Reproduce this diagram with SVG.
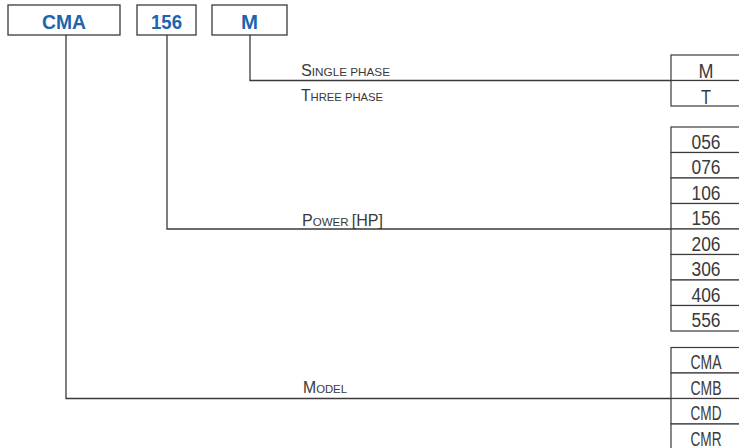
<svg xmlns="http://www.w3.org/2000/svg" width="739" height="448" viewBox="0 0 739 448">
<style>
.box{fill:#fff;stroke:#3a3a3a;stroke-width:1.3}
.cell{fill:#fff;stroke:#3a3a3a;stroke-width:1.2}
.ln{fill:none;stroke:#3a3a3a;stroke-width:1.3}
.hd{font-family:"Liberation Sans",Arial,sans-serif;font-weight:bold;font-size:21px;fill:#1c65ae;text-anchor:middle}
.val{font-family:"Liberation Sans",Arial,sans-serif;font-size:20px;fill:#3a3a3a;text-anchor:middle}
.lbl{font-family:"Liberation Sans",Arial,sans-serif;fill:#3a3a3a}
.cap{font-size:16px}
.sc{font-size:11.5px}
</style>
<rect width="739" height="448" fill="#fff"/>
<g id="head-cma"><rect class="box" x="8" y="5" width="112" height="30"/><text class="hd" x="64" y="28.5" textLength="44" lengthAdjust="spacingAndGlyphs">CMA</text></g>
<g id="head-156"><rect class="box" x="137" y="5" width="59" height="30"/><text class="hd" x="166.5" y="28.5" textLength="31" lengthAdjust="spacingAndGlyphs">156</text></g>
<g id="head-m"><rect class="box" x="212" y="5" width="75" height="30"/><text class="hd" x="249.5" y="28.5" textLength="17" lengthAdjust="spacingAndGlyphs">M</text></g>
<g id="connectors">
<polyline class="ln" points="250,35 250,80.5 671,80.5"/>
<polyline class="ln" points="167,35 167,229 671,229"/>
<polyline class="ln" points="66,35 66,398.5 671,398.5"/>
</g>
<g id="label-phase">
<text class="lbl" x="301" y="76" textLength="89" lengthAdjust="spacingAndGlyphs"><tspan class="cap">S</tspan><tspan class="sc">INGLE PHASE</tspan></text>
<text class="lbl" x="301" y="101" textLength="82" lengthAdjust="spacingAndGlyphs"><tspan class="cap">T</tspan><tspan class="sc">HREE PHASE</tspan></text>
</g>
<g id="label-power"><text class="lbl" x="302" y="226" textLength="81" lengthAdjust="spacingAndGlyphs"><tspan class="cap">P</tspan><tspan class="sc">OWER </tspan><tspan class="cap">[HP]</tspan></text></g>
<g id="label-model"><text class="lbl" x="303" y="393" textLength="44" lengthAdjust="spacingAndGlyphs"><tspan class="cap">M</tspan><tspan class="sc">ODEL</tspan></text></g>
<g id="table-phase">
<rect class="cell" x="671" y="55" width="80" height="25.5"/>
<rect class="cell" x="671" y="80.5" width="80" height="25.5"/>
<text class="val" x="706" y="78" textLength="15" lengthAdjust="spacingAndGlyphs">M</text>
<text class="val" x="706" y="103.5" textLength="10" lengthAdjust="spacingAndGlyphs">T</text>
</g>
<g id="table-power">
<rect class="cell" x="671" y="127" width="80" height="25.5"/>
<rect class="cell" x="671" y="152.5" width="80" height="25.5"/>
<rect class="cell" x="671" y="178" width="80" height="25.5"/>
<rect class="cell" x="671" y="203.5" width="80" height="25.5"/>
<rect class="cell" x="671" y="229" width="80" height="25.5"/>
<rect class="cell" x="671" y="254.5" width="80" height="25.5"/>
<rect class="cell" x="671" y="280" width="80" height="25.5"/>
<rect class="cell" x="671" y="305.5" width="80" height="25.5"/>
<text class="val" x="706" y="148.5" textLength="29" lengthAdjust="spacingAndGlyphs">056</text>
<text class="val" x="706" y="174" textLength="29" lengthAdjust="spacingAndGlyphs">076</text>
<text class="val" x="706" y="199.5" textLength="29" lengthAdjust="spacingAndGlyphs">106</text>
<text class="val" x="706" y="225" textLength="29" lengthAdjust="spacingAndGlyphs">156</text>
<text class="val" x="706" y="250.5" textLength="29" lengthAdjust="spacingAndGlyphs">206</text>
<text class="val" x="706" y="276" textLength="29" lengthAdjust="spacingAndGlyphs">306</text>
<text class="val" x="706" y="301.5" textLength="29" lengthAdjust="spacingAndGlyphs">406</text>
<text class="val" x="706" y="327" textLength="29" lengthAdjust="spacingAndGlyphs">556</text>
</g>
<g id="table-model">
<rect class="cell" x="671" y="347.5" width="80" height="25.5"/>
<rect class="cell" x="671" y="373" width="80" height="25.5"/>
<rect class="cell" x="671" y="398.5" width="80" height="25.5"/>
<rect class="cell" x="671" y="424" width="80" height="25.5"/>
<text class="val" x="706" y="369" textLength="31" lengthAdjust="spacingAndGlyphs">CMA</text>
<text class="val" x="706" y="394.5" textLength="31" lengthAdjust="spacingAndGlyphs">CMB</text>
<text class="val" x="706" y="420" textLength="31" lengthAdjust="spacingAndGlyphs">CMD</text>
<text class="val" x="706" y="445.5" textLength="31" lengthAdjust="spacingAndGlyphs">CMR</text>
</g>
</svg>
